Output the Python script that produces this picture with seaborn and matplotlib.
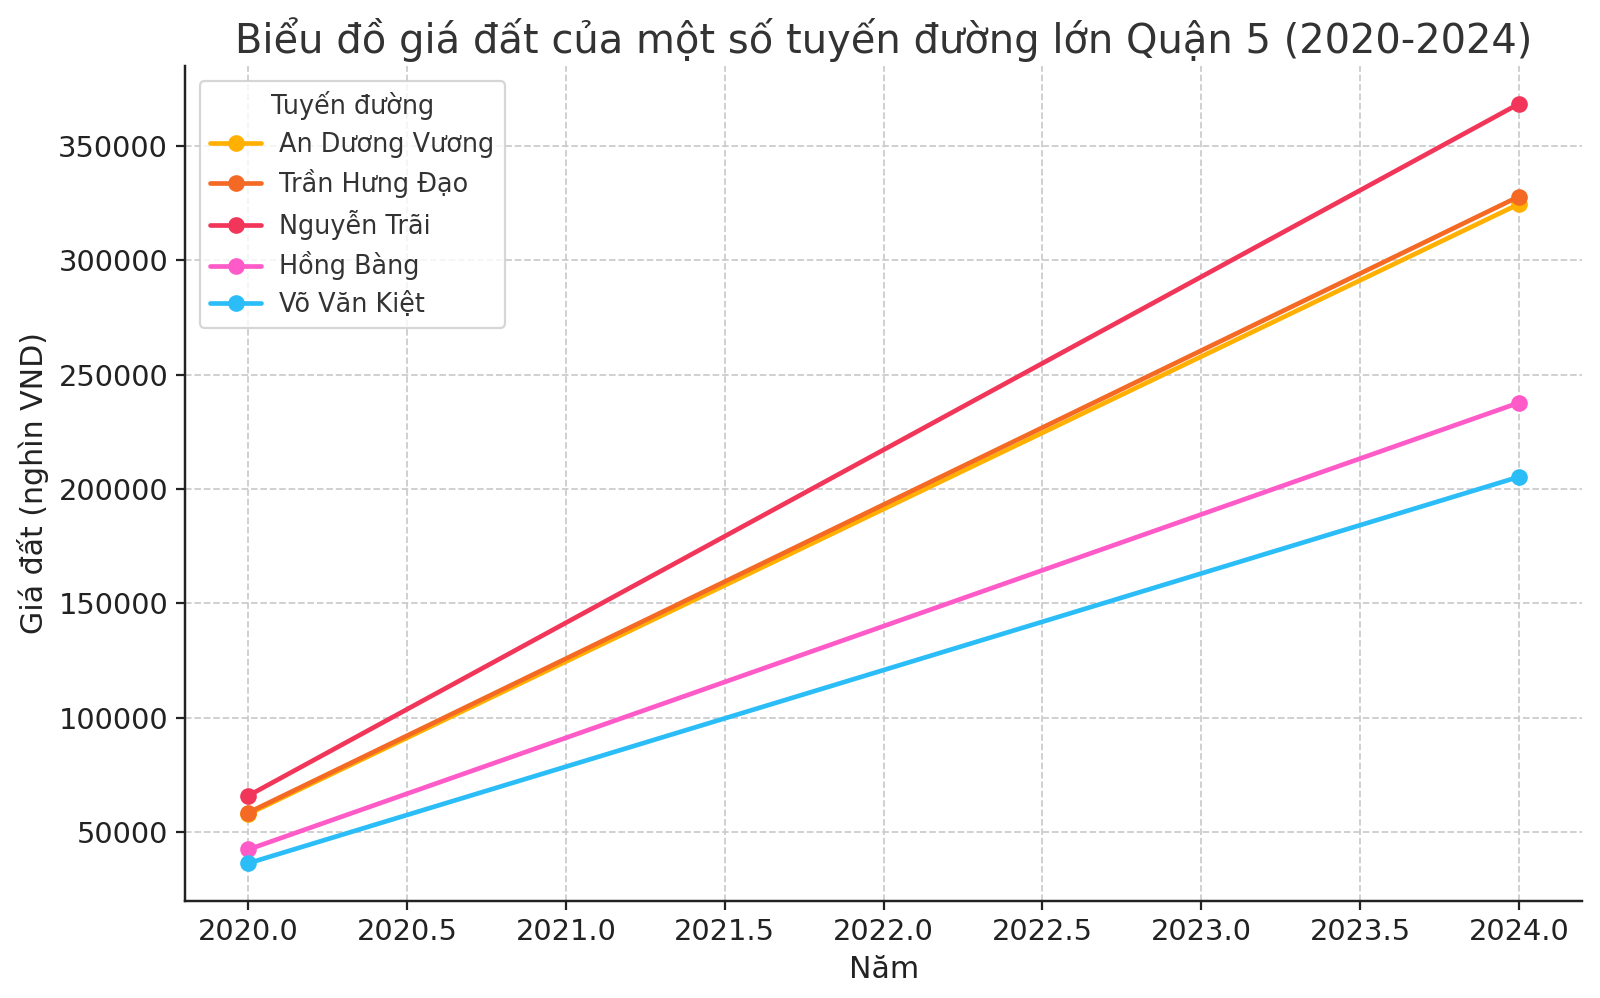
import matplotlib
matplotlib.use("Agg")
import matplotlib.pyplot as plt
import seaborn as sns
import pandas as pd

years = [2020, 2024]
streets = ["An Dương Vương", "Trần Hưng Đạo", "Nguyễn Trãi", "Hồng Bàng", "Võ Văn Kiệt"]
an_duong_vuong = [58000, 324500]
tran_hung_dao = [58600, 327800]
nguyen_trai = [66000, 368300]
hong_bang = [42500, 237700]
vo_van_kiet = [36500, 205300]
colors = ["#FFB000", "#F46A25", "#F2365A", "#FF5BC8", "#2BBDF7"]

series = [an_duong_vuong, tran_hung_dao, nguyen_trai, hong_bang, vo_van_kiet]
rows = []
for name, vals in zip(streets, series):
    for y, v in zip(years, vals):
        rows.append({"Năm": y, "Giá đất": v, "Tuyến đường": name})
df = pd.DataFrame(rows)

sns.set_style("whitegrid")
plt.rcParams["font.family"] = ["DejaVu Sans"]
text_color = "#333333"

fig = plt.figure(figsize=(10, 6.2375), dpi=160)
ax = fig.add_axes([0.1155, 0.097, 0.8735, 0.837])

sns.lineplot(data=df, x="Năm", y="Giá đất", hue="Tuyến đường",
             hue_order=streets, palette=colors, marker="o",
             markersize=7.5, markeredgewidth=0, linewidth=2.1, ax=ax)

ax.grid(True, linestyle="--", color="#cccccc", linewidth=0.8)
for s in ["top", "right"]:
    ax.spines[s].set_visible(False)
for s in ["left", "bottom"]:
    ax.spines[s].set_visible(True)
    ax.spines[s].set_color("#222222")
    ax.spines[s].set_linewidth(1.1)
ax.tick_params(axis="both", which="both", direction="out", length=4, width=1,
               color="#222222", labelsize=13, labelcolor="#222222",
               bottom=True, left=True)
ax.ticklabel_format(axis="y", style="plain", useOffset=False)
ax.set_xticks([2020.0, 2020.5, 2021.0, 2021.5, 2022.0, 2022.5, 2023.0, 2023.5, 2024.0])
ax.set_xticklabels(["2020.0", "2020.5", "2021.0", "2021.5", "2022.0", "2022.5",
                    "2023.0", "2023.5", "2024.0"])
ax.set_xlim(2019.8, 2024.2)

ax.set_title("Biểu đồ giá đất của một số tuyến đường lớn Quận 5 (2020-2024)",
             fontsize=18, color=text_color, pad=6)
ax.set_xlabel("Năm", fontsize=13.5, color="#222222")
ax.set_ylabel("Giá đất (nghìn VND)", fontsize=13.5, color="#222222")

leg = ax.legend(title="Tuyến đường", loc="upper left", fontsize=11.5,
                title_fontsize=11.5, frameon=True, borderpad=0.4,
                labelspacing=0.45, handlelength=2.0, handletextpad=0.7,
                borderaxespad=0.6)
leg.get_frame().set_edgecolor("#cccccc")
leg.get_frame().set_linewidth(1.0)
for t in leg.get_texts():
    t.set_color(text_color)
leg.get_title().set_color(text_color)

fig.savefig("out.png", dpi=160)
